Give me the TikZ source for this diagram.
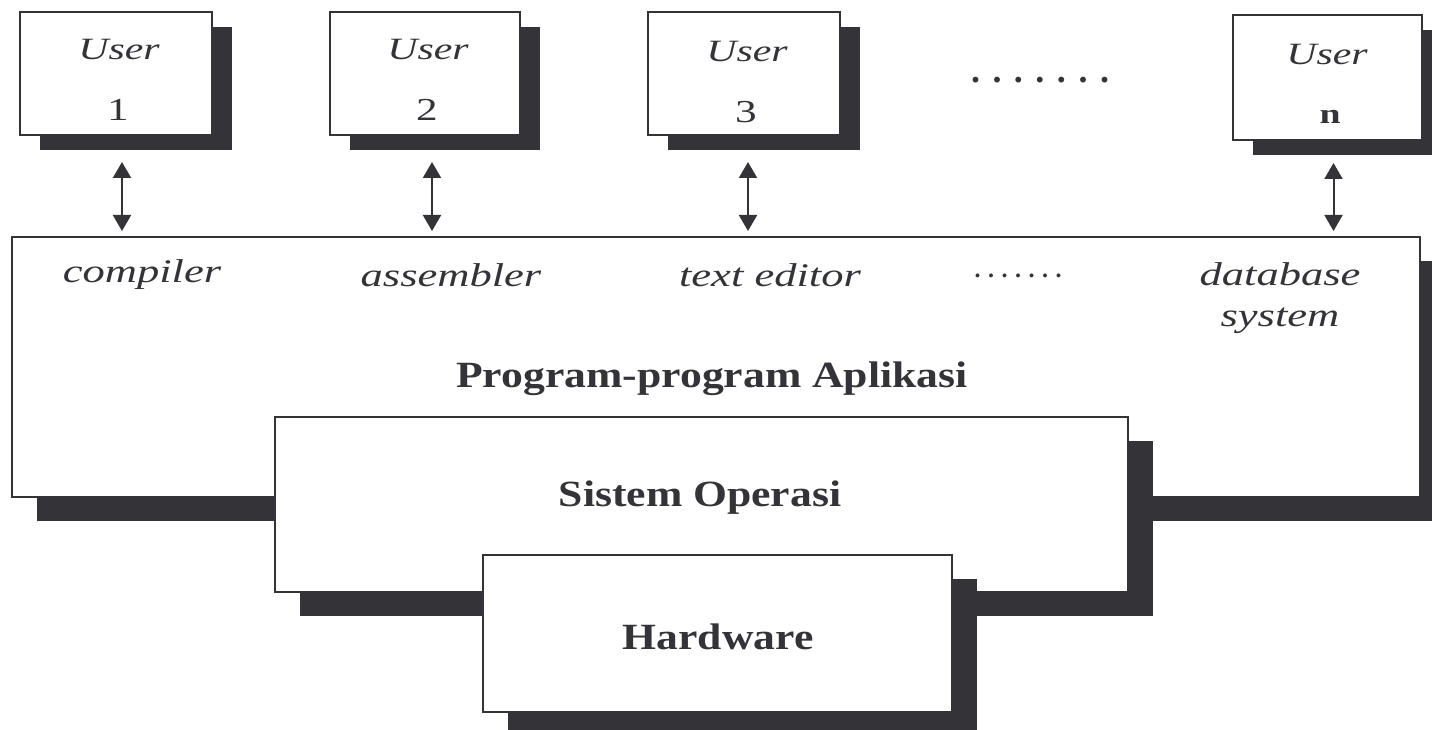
\documentclass[tikz,border=0pt]{standalone}
\usepackage{fontspec}
\setmainfont{Liberation Serif}
\newfontfamily\labfont{Liberation Serif}[FakeStretch=1.35]
\newfontfamily\headfont{Liberation Serif}[FakeStretch=1.18]
\usetikzlibrary{arrows.meta,calc,shadows}
\definecolor{ink}{RGB}{52,51,56}

\begin{document}
\begin{tikzpicture}[x=1pt,y=-1pt,
  boxbase/.style={draw=ink, line width=2pt, fill=white, inner sep=0pt},
  userbox/.style={boxbase, minimum width=#1, minimum height=123pt,
    drop shadow={shadow xshift=20pt, shadow yshift=-15pt, fill=ink, opacity=1}},
  layerbox/.style={boxbase,
    drop shadow={shadow xshift=25pt, shadow yshift=-24pt, fill=ink, opacity=1}},
  usertxt/.style={text=ink, font=\labfont\itshape\fontsize{31}{34}\selectfont},
  numtxt/.style={text=ink, font=\labfont\fontsize{32}{34}\selectfont},
  progtxt/.style={text=ink, font=\labfont\itshape\fontsize{33}{41}\selectfont},
  headtxt/.style={text=ink, font=\headfont\bfseries\fontsize{37}{40}\selectfont},
  biarrow/.style={draw=ink, line width=2pt,
    {Triangle[width=18pt,length=16pt]}-{Triangle[width=18pt,length=16pt]}},
]
\useasboundingbox (0,0) rectangle (1432,730);
\clip (0,0) rectangle (1432,730);

% layered system boxes
\node[layerbox, minimum width=1408pt, minimum height=260pt] (app) at (716,367) {};
\node[layerbox, minimum width=853pt, minimum height=175pt] (os) at (701.5,504.5) {};
\node[layerbox, minimum width=469pt, minimum height=157pt] (hw) at (717.5,633.5) {};

\node[headtxt] (apptxt) at (712,379) {Program-program Aplikasi};
\node[headtxt] (ostxt) at (700,498) {Sistem Operasi};
\node[headtxt] (hwtxt) at (718,637) {Hardware};

% application programs
\node[progtxt] (p1) at (142,275) {compiler};
\node[progtxt] (p2) at (451,275) {assembler};
\node[progtxt] (p3) at (770,275) {text editor};
\node[text=ink, font=\bfseries\fontsize{24}{26}\selectfont] (pdots) at (1018,276)
  {.\kern7.5pt.\kern7.5pt.\kern7.5pt.\kern7.5pt.\kern7.5pt.\kern7.5pt.};
\node[progtxt, align=center] (p4) at (1280,298) {database\\system};

% users
\node[userbox=192pt] (u1) at (116,73.5) {};
\node[userbox=190pt] (u2) at (425,73.5) {};
\node[userbox=192pt] (u3) at (744,73.5) {};
\node[userbox=189pt, minimum height=125pt] (un) at (1327.5,77.5) {};

\node[usertxt] at (119,50) {User};
\node[numtxt] at (118,110) {1};
\node[usertxt] at (428,50) {User};
\node[numtxt] at (427,110) {2};
\node[usertxt] at (747,52) {User};
\node[numtxt] at (746,112) {3};
\node[usertxt] at (1327,55) {User};
\node[numtxt, font=\labfont\bfseries\fontsize{28}{30}\selectfont] at (1330,117) {n};

\node[text=ink, font=\bfseries\fontsize{36}{38}\selectfont] (udots) at (1040,80)
  {.\kern12.5pt.\kern12.5pt.\kern12.5pt.\kern12.5pt.\kern12.5pt.\kern12.5pt.};

% user <-> application links
\coordinate (a1) at ($(u1.south)+(6,26)$);
\coordinate (a2) at ($(u2.south)+(7,26)$);
\coordinate (a3) at ($(u3.south)+(4,26)$);
\coordinate (an) at ($(un.south)+(6,22)$);
\foreach \c in {a1,a2,a3,an}
  \draw[biarrow, shorten >=5pt] (\c) -- (\c |- app.north);
\end{tikzpicture}
\end{document}
